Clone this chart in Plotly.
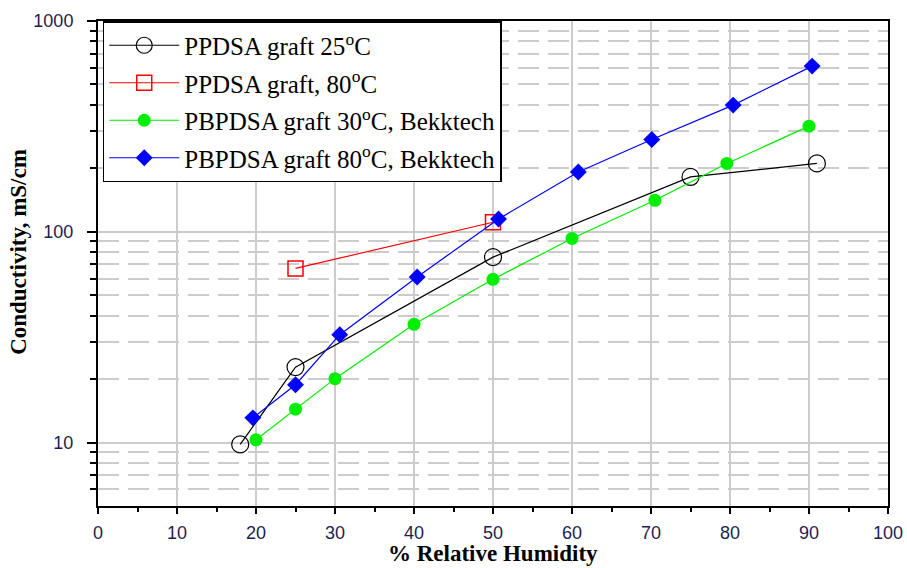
import plotly.graph_objects as go

# Data
rh_ppdsa25 = [18, 25, 50, 75, 91]
cond_ppdsa25 = [9.8, 22.8, 75.8, 182, 211]

rh_ppdsa80 = [25, 50]
cond_ppdsa80 = [67, 111]

rh_pb30 = [20, 25, 30, 40, 50, 60, 70.5, 79.6, 90]
cond_pb30 = [10.3, 14.4, 20.1, 36.4, 59.5, 93, 141, 211, 317]

rh_pb80 = [19.6, 25, 30.6, 40.4, 50.7, 60.8, 70.1, 80.4, 90.4]
cond_pb80 = [13.1, 18.8, 32.5, 61, 115, 192, 274, 399, 611]

names = [
    "PPDSA graft 25<sup>o</sup>C",
    "PPDSA graft, 80<sup>o</sup>C",
    "PBPDSA graft 30<sup>o</sup>C, Bekktech",
    "PBPDSA graft 80<sup>o</sup>C, Bekktech",
]

x_ticks = [0, 10, 20, 30, 40, 50, 60, 70, 80, 90, 100]
y_ticks = [10, 100, 1000]
y_minor = [6, 7, 8, 9, 20, 30, 40, 50, 60, 70, 80, 90,
           200, 300, 400, 500, 600, 700, 800, 900]

fig = go.Figure()
fig.add_trace(go.Scatter(x=rh_ppdsa25, y=cond_ppdsa25, mode="lines+markers", name=names[0],
                         legendgroup="a",
                         line=dict(color="black", width=1.2),
                         marker=dict(symbol="circle-open", size=17, color="black", line=dict(width=1.2))))
fig.add_trace(go.Scatter(x=rh_ppdsa80, y=cond_ppdsa80, mode="lines+markers", name=names[1],
                         legendgroup="b",
                         line=dict(color="red", width=1.2),
                         marker=dict(symbol="square-open", size=15, color="red", line=dict(width=1.5))))
fig.add_trace(go.Scatter(x=rh_pb30, y=cond_pb30, mode="lines+markers", name=names[2],
                         legendgroup="c",
                         line=dict(color="#00ee00", width=1.2),
                         marker=dict(symbol="circle", size=13, color="#00ee00")))
fig.add_trace(go.Scatter(x=rh_pb80, y=cond_pb80, mode="lines+markers", name=names[3],
                         legendgroup="d",
                         line=dict(color="blue", width=1.2),
                         marker=dict(symbol="diamond", size=13, color="blue")))

tick_font = dict(family="Liberation Sans, Arial, sans-serif", size=18, color="#1e1e50")
title_font = dict(family="Liberation Serif, Times New Roman, serif", size=23, color="black")

fig.update_layout(
    width=907, height=568,
    margin=dict(l=98, r=19, t=21, b=62, autoexpand=False),
    paper_bgcolor="white", plot_bgcolor="white",
    showlegend=True,
    legend=dict(x=0.006, y=1.0, xanchor="left", yanchor="top",
                bgcolor="white", bordercolor="black", borderwidth=1.5,
                font=dict(family="Liberation Serif, Times New Roman, serif", size=25, color="black"),
                tracegroupgap=2, itemwidth=70),
    xaxis=dict(
        range=[0, 100], tickmode="array", tickvals=x_ticks, automargin=False,
        showline=True, linecolor="black", linewidth=2, mirror=True,
        ticks="outside", ticklen=6, tickwidth=1.5, tickcolor="black",
        showgrid=True, gridcolor="#cccccc", gridwidth=1.5,
        tickfont=tick_font, ticklabelstandoff=3,
        minor=dict(dtick=5, ticks="outside", ticklen=4, tickwidth=1.5, tickcolor="black", showgrid=False),
        zeroline=False,
    ),
    yaxis=dict(
        type="log", range=[0.69897, 3], tickmode="array", tickvals=y_ticks, automargin=False,
        ticktext=[str(v) for v in y_ticks],
        showline=True, linecolor="black", linewidth=2, mirror=True,
        ticks="outside", ticklen=9, tickwidth=1.5, tickcolor="black",
        showgrid=True, gridcolor="#cccccc", gridwidth=1.5,
        tickfont=tick_font, ticklabelstandoff=10,
        minor=dict(tickmode="array", tickvals=y_minor, ticks="outside", ticklen=6,
                   tickwidth=1.5, tickcolor="black",
                   showgrid=True, gridcolor="#cccccc", gridwidth=1.5, griddash="21px,9px"),
        zeroline=False,
    ),
    annotations=[
        dict(text="<b>Conductivity, mS/cm</b>", font=title_font, textangle=-90,
             xref="paper", yref="paper", x=-0.1, y=0.524,
             xanchor="center", yanchor="middle", showarrow=False),
        dict(text="<b>% Relative Humidity</b>", font=title_font,
             xref="paper", yref="paper", x=0.5, y=-0.125,
             xanchor="center", yanchor="bottom", showarrow=False, borderpad=0),
    ],
)

fig.write_html("out.html")
